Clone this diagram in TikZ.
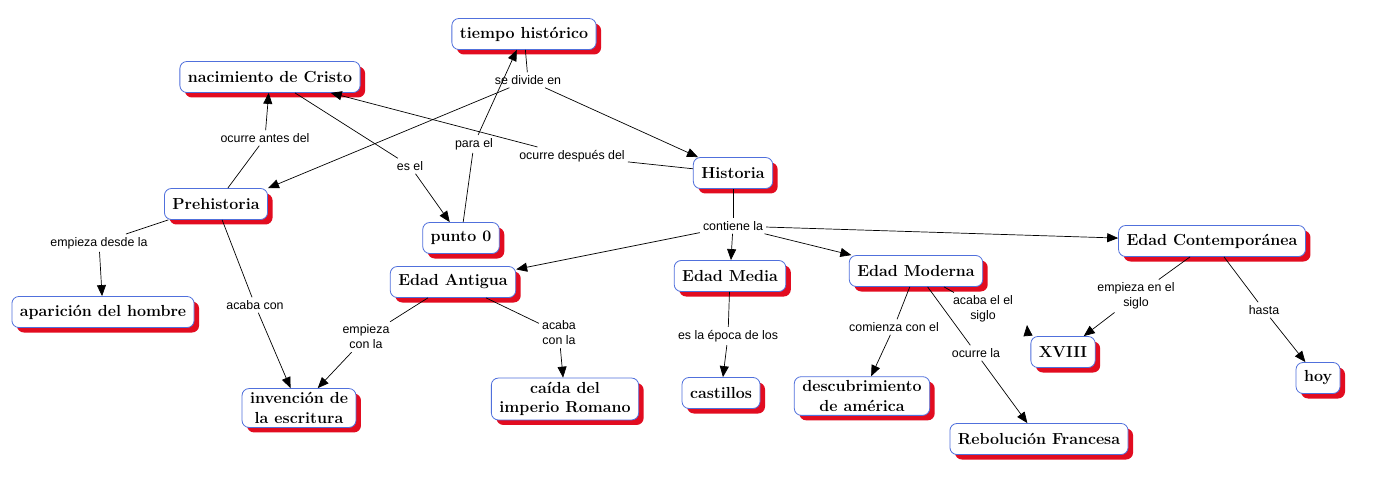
\documentclass[tikz,border=0pt]{standalone}
\usepackage{fontspec}
\usepackage{tikz}
\usetikzlibrary{positioning,arrows.meta,shadows}
\newfontfamily\lblfont{Liberation Sans}
\definecolor{conceptblue}{RGB}{80,112,220}
\definecolor{shadowred}{RGB}{226,12,32}
\tikzset{
  concept/.style={draw=conceptblue,fill=white,rounded corners=7pt,line width=0.8pt,
    font=\fontsize{16}{19.5}\selectfont\bfseries,inner xsep=8pt,inner ysep=4pt,
    minimum height=31pt,align=center,
    drop shadow={shadow xshift=5pt,shadow yshift=-5pt,fill=shadowred,opacity=1}},
  linkword/.style={font=\lblfont\fontsize{12.4}{15}\selectfont,inner sep=3pt,align=center},
  link/.style={draw,line width=0.7pt},
  arr/.style={link,-{Triangle[length=11pt,width=9pt]}}
}
\begin{document}
\begin{tikzpicture}[x=1pt,y=-1pt]
\useasboundingbox[fill=white] (0,0) rectangle (1380,494);
% conceptos
\node (tiempo) at (524,34) [concept] {tiempo histórico};
\node (cristo) at (270,77) [concept] {nacimiento de Cristo};
\node (prehist) at (216,204) [concept] {Prehistoria};
\node (punto) at (461,238) [concept] {punto 0};
\node (historia) at (733,173) [concept] {Historia};
\node (hombre) at (103,312) [concept] {aparición del hombre};
\node (antigua) at (453,282) [concept] {Edad Antigua};
\node (media) at (730,276) [concept] {Edad Media};
\node (moderna) at (916,271) [concept] {Edad Moderna};
\node (contemp) at (1212,241) [concept] {Edad Contemporánea};
\node (xviii) at (1063,352) [concept] {XVIII};
\node (hoy) at (1318,378) [concept] {hoy};
\node (escritura) at (299,408) [concept] {invención de\\la escritura};
\node (caida) at (565,399) [concept] {caída del\\imperio Romano};
\node (castillos) at (721,393) [concept] {castillos};
\node (descub) at (862,396) [concept] {descubrimiento\\de américa};
\node (rebol) at (1039,439) [concept] {Rebolución Francesa};
% palabras de enlace
\node (divide) at (528,80) [linkword] {se divide en};
\node (antes) at (265,138) [linkword] {ocurre antes del};
\node (esel) at (410,166) [linkword] {es el};
\node (parael) at (474,144) [linkword] {para el};
\node (despues) at (572,156) [linkword] {ocurre después del};
\node (contiene) at (733,226) [linkword] {contiene la};
\node (desde) at (99,243) [linkword] {empieza desde la};
\node (acaba) at (255,305) [linkword] {acaba con};
\node (empcon) at (366,337) [linkword] {empieza\\con la};
\node (acabala) at (559,333) [linkword] {acaba\\con la};
\node (epoca) at (728,336) [linkword] {es la época de los};
\node (comienza) at (894,327) [linkword] {comienza con el};
\node (siglo) at (983,309) [linkword] {acaba el el\\siglo};
\node (ocurrela) at (976,353) [linkword] {ocurre la};
\node (empsiglo) at (1136,296) [linkword] {empieza en el\\siglo};
\node (hasta) at (1264,310) [linkword] {hasta};
\coordinate (sigloa) at (1028,336);
\coordinate (siglob) at (1027,325);
% enlaces
\draw[link] (tiempo) -- (divide);
\draw[arr] (divide) -- (prehist.north east);
\draw[arr] (divide) -- (historia);
\draw[link] (prehist) -- (antes);
\draw[arr] (antes) -- (cristo);
\draw[link] (cristo) -- (esel);
\draw[arr] (esel) -- (punto);
\draw[link] (punto) -- (parael);
\draw[arr] (parael) -- (tiempo);
\draw[link] (historia) -- (despues);
\draw[arr] (despues) -- (cristo);
\draw[link] (historia) -- (contiene);
\draw[arr] (contiene) -- (antigua);
\draw[arr] (contiene) -- (media);
\draw[arr] (contiene) -- (moderna);
\draw[arr] (contiene) -- (contemp);
\draw[link] (prehist) -- (desde);
\draw[arr] (desde) -- (hombre);
\draw[link] (prehist) -- (acaba);
\draw[arr] (acaba) -- (escritura);
\draw[link] (antigua) -- (empcon);
\draw[arr] (empcon) -- (escritura);
\draw[link] (antigua) -- (acabala);
\draw[arr] (acabala) -- (caida);
\draw[link] (media) -- (epoca);
\draw[arr] (epoca) -- (castillos);
\draw[link] (moderna) -- (comienza);
\draw[arr] (comienza) -- (descub);
\draw[link] (moderna) -- (siglo);
\draw[arr] (sigloa) -- (siglob);
\draw[link] (moderna) -- (ocurrela);
\draw[arr] (ocurrela) -- (rebol);
\draw[link] (contemp) -- (empsiglo);
\draw[arr] (empsiglo) -- (xviii);
\draw[link] (contemp) -- (hasta);
\draw[arr] (hasta) -- (hoy);
\end{tikzpicture}
\end{document}
